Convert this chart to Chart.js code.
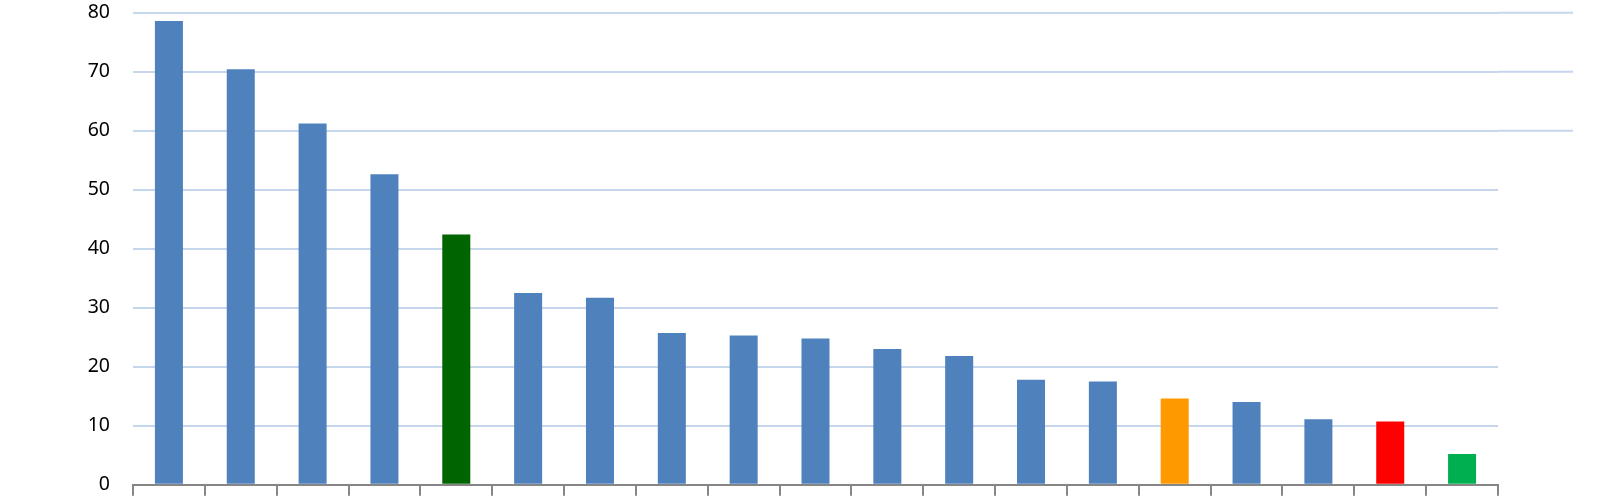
<!DOCTYPE html>
<html>
<head>
<meta charset="utf-8">
<script src="https://cdn.jsdelivr.net/npm/chart.js@4.4.0/dist/chart.umd.min.js"></script>
<style>
  html, body { margin: 0; padding: 0; background: #ffffff; }
  #wrap { width: 1600px; height: 500px; }
</style>
</head>
<body>
<div id="wrap"><canvas id="barChart"></canvas></div>
<script>
const categories = ["1", "2", "3", "4", "5", "6", "7", "8", "9", "10",
                    "11", "12", "13", "14", "15", "16", "17", "18", "19"];
const values = [78.6, 70.4, 61.2, 52.6, 42.4, 32.5, 31.7, 25.7, 25.3, 24.8,
                23.0, 21.8, 17.8, 17.5, 14.6, 14.0, 11.1, 10.7, 5.2];
const barColors = ["#4F81BD", "#4F81BD", "#4F81BD", "#4F81BD", "#006400",
                   "#4F81BD", "#4F81BD", "#4F81BD", "#4F81BD", "#4F81BD",
                   "#4F81BD", "#4F81BD", "#4F81BD", "#4F81BD", "#FF9900",
                   "#4F81BD", "#4F81BD", "#FF0000", "#00B050"];
const yTicks = [0, 10, 20, 30, 40, 50, 60, 70, 80];
// the top gridlines run on past the end of the axis in the original
const longGridLines = [60, 70, 80];

const longLines = {
  id: "longLines",
  beforeDatasetsDraw(chart) {
    const y = chart.scales.y;
    const ctx = chart.ctx;
    ctx.save();
    ctx.strokeStyle = "#C6D6EC";
    ctx.lineWidth = 2;
    longGridLines.forEach(function (v) {
      const py = y.getPixelForValue(v);
      ctx.beginPath();
      ctx.moveTo(chart.chartArea.right, py);
      ctx.lineTo(chart.chartArea.right + 75, py);
      ctx.stroke();
    });
    ctx.restore();
  }
};

document.addEventListener("DOMContentLoaded", function () {
  const ctx = document.getElementById("barChart");

  new Chart(ctx, {
    type: "bar",
    data: {
      labels: categories,
      datasets: [{
        data: values,
        backgroundColor: barColors,
        borderWidth: 0,
        categoryPercentage: 1.0,
        barPercentage: 0.39
      }]
    },
    options: {
      responsive: true,
      maintainAspectRatio: false,
      animation: false,
      layout: {
        padding: { top: 12.7, right: 102, bottom: 4.3, left: 0 }
      },
      plugins: {
        legend: { display: false },
        tooltip: { enabled: false }
      },
      scales: {
        x: {
          grid: {
            offset: true,
            drawOnChartArea: false,
            drawTicks: true,
            tickLength: 11,
            color: "#868686",
            lineWidth: 2
          },
          border: { display: true, color: "#868686", width: 2 },
          ticks: { display: false }
        },
        y: {
          min: 0,
          max: 80,
          afterBuildTicks: function (scale) {
            scale.ticks = yTicks.map(function (v) { return { value: v }; });
          },
          afterFit: function (scale) {
            scale.width = 133;
            // tick padding would otherwise push the plot down from the top
            scale.paddingTop = 0;
            scale.paddingBottom = 0;
          },
          grid: {
            color: "#C6D6EC",
            lineWidth: 2,
            drawTicks: false
          },
          border: { display: false },
          ticks: {
            padding: 23,
            color: "#000000",
            font: { family: "'Noto Sans', sans-serif", size: 19.5 }
          }
        }
      }
    },
    plugins: [longLines]
  });
});
</script>
</body>
</html>
